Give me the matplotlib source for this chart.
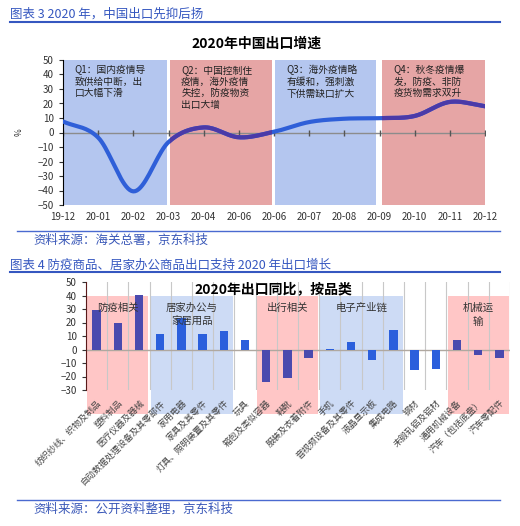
import numpy as np
import matplotlib
matplotlib.use("Agg")
import matplotlib.pyplot as plt
from matplotlib.lines import Line2D
from matplotlib.patches import Rectangle

plt.rcParams["font.family"] = ["Noto Sans CJK SC", "DejaVu Sans"]

# ---- 图表3 数据 ----
months = ["19-12", "20-01", "20-02", "20-03", "20-04", "20-06", "20-06",
          "20-07", "20-08", "20-09", "20-10", "20-11", "20-12"]
export_growth = [7.6, -3.5, -40.6, -6.6, 3.5, -3.3, 0.5, 7.2, 9.5, 9.9, 11.4, 21.1, 18.1]
quarter_notes = [
    "Q1：国内疫情导\n致供给中断，出\n口大幅下滑",
    "Q2：中国控制住\n疫情，海外疫情\n失控，防疫物资\n出口大增",
    "Q3：海外疫情略\n有缓和，强刺激\n下供需缺口扩大",
    "Q4：秋冬疫情爆\n发，防疫、非防\n疫货物需求双升",
]
quarter_kind = ["blue", "red", "blue", "red"]

# ---- 图表4 数据 ----
categories = ["纺织纱线、织物及制品", "塑料制品", "医疗仪器及器械",
              "自动数据处理设备及其零部件", "家用电器", "家具及其零件",
              "灯具、照明装置及其零件", "玩具", "箱包及类似容器", "鞋靴",
              "服装及衣着附件", "手机", "音视频设备及其零件", "液晶显示板",
              "集成电路", "钢材", "未锻轧铝及铝材", "通用机械设备",
              "汽车（包括底盘）", "汽车零配件"]
yoy = [29, 19.3, 40.3, 11.4, 23, 11.4, 14, 7.2, -24.2, -21.2, -6.4, 0.5,
       5.2, -7.6, 14.6, -15.5, -14.3, 7.2, -3.9, -6.4]
group_names = ["防疫相关", "居家办公与\n家居用品", "", "出行相关", "电子产业链", "", "机械运\n输"]
group_sizes = [3, 4, 1, 3, 4, 2, 3]
group_kind = ["red", "blue", "", "red", "blue", "", "red"]

W, H = 520, 526
fig = plt.figure(figsize=(W / 100, H / 100), dpi=100)


def fx(px):
    return px / W


def fy(py):
    return 1 - py / H


def catmull(xs, ys, n=20):
    xs = np.asarray(xs, float)
    ys = np.asarray(ys, float)
    px = np.concatenate([[2 * xs[0] - xs[1]], xs, [2 * xs[-1] - xs[-2]]])
    py = np.concatenate([[2 * ys[0] - ys[1]], ys, [2 * ys[-1] - ys[-2]]])
    outx, outy = [], []
    t = np.linspace(0, 1, n, endpoint=False)
    for i in range(1, len(px) - 2):
        for arr, out in ((px, outx), (py, outy)):
            p0, p1, p2, p3 = arr[i - 1], arr[i], arr[i + 1], arr[i + 2]
            out.extend(0.5 * (2 * p1 + (-p0 + p2) * t
                              + (2 * p0 - 5 * p1 + 4 * p2 - p3) * t ** 2
                              + (-p0 + 3 * p1 - 3 * p2 + p3) * t ** 3))
    outx.append(xs[-1])
    outy.append(ys[-1])
    return np.array(outx), np.array(outy)


head_color = "#3557c0"

# headers / sources
fig.text(fx(10), fy(14), "图表 3 2020 年，中国出口先抑后扬", color=head_color,
         fontsize=9, va="center", ha="left")
fig.add_artist(Line2D([fx(10), fx(500)], [fy(22), fy(22)], color=head_color, lw=1.5))
fig.add_artist(Line2D([fx(17), fx(500)], [fy(231), fy(231)], color="#4a6ad0", lw=1))
fig.text(fx(33), fy(240), "资料来源：海关总署，京东科技", color="#3a58b8",
         fontsize=9, va="center", ha="left")
fig.text(fx(10), fy(265), "图表 4 防疫商品、居家办公商品出口支持 2020 年出口增长",
         color=head_color, fontsize=9, va="center", ha="left")
fig.add_artist(Line2D([fx(10), fx(500)], [fy(272), fy(272)], color=head_color, lw=1.5))
fig.add_artist(Line2D([fx(17), fx(500)], [fy(500), fy(500)], color="#4a6ad0", lw=1))
fig.text(fx(33), fy(509), "资料来源：公开资料整理，京东科技", color="#3a58b8",
         fontsize=9, va="center", ha="left")

# ---- chart 1 ----
ax1 = fig.add_axes([fx(63), fy(205), fx(485) - fx(63), fy(60) - fy(205)])
fig.text(fx(257), fy(44), "2020年中国出口增速", fontsize=10, fontweight="bold",
         ha="center", va="center")
x = np.arange(len(months))
span_col = {"blue": "#b4c6ef", "red": "#e6a5a5"}
gaps = [(0, 2.95), (3.03, 5.94), (6.02, 8.9), (9.07, 12)]
sx, sy = catmull(x, export_growth)
ax1.plot(sx, sy, color="#2f5fd8", lw=3, zorder=3, solid_capstyle="round")
for q, note in enumerate(quarter_notes):
    a, b = gaps[q]
    patch = ax1.axvspan(a, b, color=span_col[quarter_kind[q]], lw=0, zorder=0)
    if quarter_kind[q] == "red":
        ln, = ax1.plot(sx, sy, color="#4b3aa8", lw=3, zorder=4)
        ln.set_clip_path(patch)
    ax1.text(a + 0.33, 46.5, note, fontsize=7, va="top", ha="left",
             color="#222222", linespacing=1.2, zorder=5)
ax1.axhline(0, color="#8c8c8c", lw=1, zorder=2)
ax1.plot(x, np.zeros(len(x)), ls="none", marker="|", ms=4, color="#555555", zorder=2)
ax1.set_xlim(0, 12)
ax1.set_ylim(-50, 50)
ax1.set_yticks(np.arange(-50, 51, 10))
ax1.set_xticks(x)
ax1.set_xticklabels(months)
ax1.tick_params(axis="x", length=0, pad=5, labelsize=7, colors="#333333")
ax1.tick_params(axis="y", length=3, labelsize=7, colors="#333333")
for s in ["top", "right", "bottom"]:
    ax1.spines[s].set_visible(False)
ax1.spines["left"].set_color("black")
ax1.set_ylabel("%", fontsize=6, labelpad=10, color="#333333")

# ---- chart 2 ----
ax2 = fig.add_axes([fx(86), fy(390), fx(510) - fx(86), fy(282) - fy(390)])
fig.text(fx(273), fy(289), "2020年出口同比，按品类", fontsize=10, fontweight="bold",
         ha="center", va="center")
xc = np.arange(len(categories))
shade2 = {"blue": "#cddbf5", "red": "#ffc6c6"}
bar_col = {"red": "#4a4aae", "blue": "#2b5fdc", "": "#2b5fdc"}
colors = []
start = 0
for name, size, kind in zip(group_names, group_sizes, group_kind):
    colors += [bar_col[kind]] * size
    if kind:
        ax2.add_patch(Rectangle((start - 0.5 + 0.06, -48), size - 0.12, 87.3,
                                facecolor=shade2[kind], lw=0, zorder=0, clip_on=False))
    if name:
        ax2.text(start + size / 2 - 0.5, 34.5, name, fontsize=7.5, ha="center",
                 va="top", color="#333333", linespacing=1.5, zorder=5)
    start += size
for b in np.arange(len(categories) + 1) - 0.5:
    ax2.axvline(b, color="#c8c8c8", lw=0.8, zorder=1)
ax2.bar(xc, yoy, width=0.4, color=colors, zorder=3)
ax2.axhline(0, color="#b0a8a0", lw=1, zorder=2)
ax2.set_xlim(-0.5, len(categories) - 0.5)
ax2.set_ylim(-30, 50)
ax2.set_yticks(np.arange(-30, 51, 10))
ax2.set_xticks(xc)
ax2.set_xticklabels(categories, rotation=45, ha="right", rotation_mode="anchor",
                    fontsize=6.4, color="#444444")
ax2.tick_params(axis="x", length=0, pad=6)
ax2.tick_params(axis="y", length=3, labelsize=7, colors="#333333")
for s in ["top", "right", "bottom"]:
    ax2.spines[s].set_visible(False)
ax2.spines["left"].set_color("#5a1a1a")
ax2.set_facecolor("none")

fig.savefig("out.png", dpi=100)
